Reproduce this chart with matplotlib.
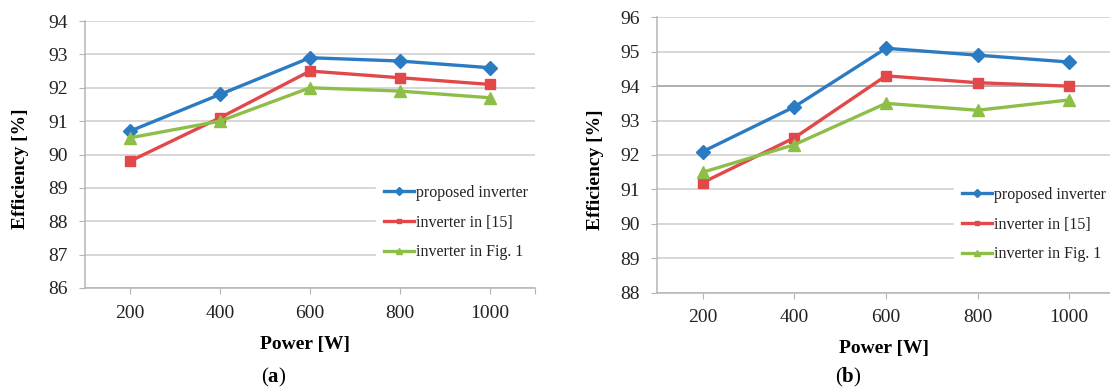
import matplotlib
matplotlib.use("Agg")
import matplotlib.pyplot as plt

plt.rcParams['font.family'] = ['Liberation Serif', 'DejaVu Serif']
plt.rcParams['mathtext.fontset'] = 'custom'
plt.rcParams['mathtext.rm'] = 'Liberation Serif'
plt.rcParams['mathtext.bf'] = 'Liberation Serif:bold'

power = [200, 400, 600, 800, 1000]
labels = ['proposed inverter', 'inverter in [15]', 'inverter in Fig. 1']

# panel (a)
eff_a_proposed = [90.7, 91.8, 92.9, 92.8, 92.6]
eff_a_ref15 = [89.8, 91.1, 92.5, 92.3, 92.1]
eff_a_fig1 = [90.5, 91.0, 92.0, 91.9, 91.7]

# panel (b)
eff_b_proposed = [92.1, 93.4, 95.1, 94.9, 94.7]
eff_b_ref15 = [91.2, 92.5, 94.3, 94.1, 94.0]
eff_b_fig1 = [91.5, 92.3, 93.5, 93.3, 93.6]

colors = ['#2b7bc3', '#e2474a', '#8dbf48']
markers = ['D', 's', '^']
msizes = [7.5, 6.5, 8.5]

W, H = 1110, 390
fig = plt.figure(figsize=(W / 100, H / 100), dpi=100)


def px_axes(left, top, right, bottom):
    return fig.add_axes([left / W, 1 - bottom / H, (right - left) / W, (bottom - top) / H])


def draw_panel(ax, series, ylim, leg_anchor):
    for vals, c, m, ms, lab in zip(series, colors, markers, msizes, labels):
        ax.plot(power, vals, color=c, lw=2.4, marker=m, ms=ms, mec=c, mfc=c,
                label=lab, zorder=3)
    ax.set_xlim(100, 1100)
    ax.set_ylim(*ylim)
    ax.set_yticks(range(ylim[0], ylim[1] + 1))
    ax.set_xticks(power + [1100])
    ax.set_xticklabels([str(p) for p in power] + [''])
    ax.grid(axis='y', color='#cccccc', lw=1.1)
    ax.set_axisbelow(True)
    for s in ['top', 'right']:
        ax.spines[s].set_visible(False)
    for s in ['left', 'bottom']:
        ax.spines[s].set_color('#b5b5b5')
        ax.spines[s].set_linewidth(1.1)
    ax.tick_params(axis='y', length=4, color='#b5b5b5', pad=8.5,
                   labelsize=14, labelcolor='#222222')
    ax.tick_params(axis='x', length=4, color='#b5b5b5', pad=8,
                   labelsize=14, labelcolor='#222222')
    leg = ax.legend(loc='upper left', bbox_to_anchor=leg_anchor, fontsize=11.5,
                    handlelength=1.9, handletextpad=0.12, labelspacing=0.85,
                    borderpad=0.5, borderaxespad=0, frameon=True, fancybox=False,
                    markerscale=0.55)
    leg.get_frame().set_facecolor('white')
    leg.get_frame().set_edgecolor('white')
    leg.get_frame().set_alpha(1)
    for t in leg.get_texts():
        t.set_color('#222222')


ax_a = px_axes(85, 21, 535, 288)
draw_panel(ax_a, [eff_a_proposed, eff_a_ref15, eff_a_fig1], (86, 94),
           ((376 - 85) / 450, (288 - 177) / 267))

ax_b = px_axes(657, 17.3, 1115, 292.7)
draw_panel(ax_b, [eff_b_proposed, eff_b_ref15, eff_b_fig1], (88, 96),
           ((954 - 657) / 458, (292.7 - 179) / 275.4))
ax_b.axhline(94, color='#a5a5a5', lw=1.1, zorder=1)

# axis titles and panel tags
fig.text(21 / W, 1 - 169 / H, 'Efficiency [%]', rotation=90, ha='center',
         va='center', fontsize=14, fontweight='bold')
fig.text(595 / W, 1 - 170 / H, 'Efficiency [%]', rotation=90, ha='center',
         va='center', fontsize=14, fontweight='bold')
fig.text(305 / W, 1 - 345 / H, 'Power [W]', ha='center', va='center',
         fontsize=14, fontweight='bold')
fig.text(884 / W, 1 - 349 / H, 'Power [W]', ha='center', va='center',
         fontsize=14, fontweight='bold')
fig.text(274 / W, 1 - 377 / H, r'($\mathbf{a}$)', ha='center', va='center',
         fontsize=15)
fig.text(848 / W, 1 - 377 / H, r'($\mathbf{b}$)', ha='center', va='center',
         fontsize=15)

fig.savefig('out.png', dpi=100)
